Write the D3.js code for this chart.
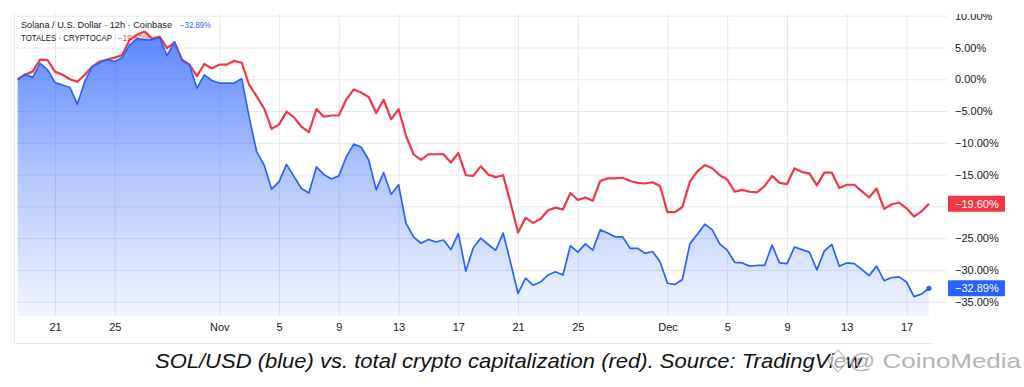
<!DOCTYPE html>
<html>
<head>
<meta charset="utf-8">
<script src="https://cdn.jsdelivr.net/npm/d3@7"></script>
<style>
  html, body { margin: 0; padding: 0; background: #fff; }
  svg { display: block; }
  text { font-family: "Liberation Sans", Arial, sans-serif; }
</style>
</head>
<body>
<svg id="chart" width="1024" height="387"></svg>
<script>
// ---------------- DATA ----------------
const seriesStart = "2025-10-18T12:00:00Z";   // first 12h candle
const stepHours = 12;

// TOTALES · CRYPTOCAP, % change (red)
const totalCapPct = [
  0.0, 0.7, 1.2, 3.1, 3.0, 1.2, 0.7, 0.0, -0.4, 0.7,
  2.0, 2.8, 3.1, 3.4, 3.8, 6.2, 7.0, 7.5, 6.4, 6.7,
  4.9, 5.8, 3.0, 2.3, 0.5, 2.4, 1.7, 2.3, 2.3, 2.9,
  2.6, -0.9, -2.7, -4.6, -7.8, -7.1, -5.1, -6.0, -7.5, -8.3,
  -4.7, -5.9, -5.7, -5.7, -3.2, -1.6, -2.1, -2.8, -5.3, -3.2,
  -6.3, -4.7, -8.9, -11.8, -12.7, -11.8, -11.8, -11.8, -13.1, -11.6,
  -15.1, -15.2, -13.7, -15.0, -15.4, -15.1, -19.5, -24.1, -21.8, -22.6,
  -22.0, -20.6, -20.2, -20.5, -17.9, -19.0, -18.6, -19.1, -16.0, -15.6,
  -15.6, -15.5, -16.0, -16.3, -16.4, -16.2, -16.8, -20.9, -20.9, -20.1,
  -16.1, -14.5, -13.5, -14.0, -15.1, -15.8, -17.7, -17.4, -17.7, -17.8,
  -16.8, -15.2, -16.3, -16.5, -14.0, -14.6, -14.8, -16.7, -14.7, -14.7,
  -17.1, -16.6, -16.6, -17.6, -18.6, -17.2, -20.4, -19.7, -19.4, -20.3,
  -21.6, -20.8, -19.6
];

// Solana / U.S. Dollar · 12h · Coinbase, % change (blue)
const solUsdPct = [
  -0.1, 0.8, 0.3, 2.5, 1.5, -0.5, -0.9, -1.3, -3.9, -0.3,
  2.0, 2.6, 3.1, 2.8, 3.4, 5.4, 6.4, 6.2, 6.2, 6.6,
  3.7, 5.9, 3.1, 2.3, -1.4, 0.7, -0.2, -0.6, -0.6, -0.6,
  0.1, -6.0, -11.4, -13.5, -17.3, -16.1, -13.4, -15.3, -17.2, -17.9,
  -13.8, -15.0, -15.7, -15.2, -12.2, -10.2, -10.7, -12.7, -17.4, -14.7,
  -18.1, -16.6, -22.7, -24.8, -25.8, -25.2, -25.6, -25.3, -26.8, -24.3,
  -30.2, -26.5, -25.0, -26.0, -26.9, -24.2, -28.9, -33.7, -31.3, -32.4,
  -31.9, -30.8, -30.3, -30.8, -26.2, -27.2, -25.9, -26.9, -23.7, -24.2,
  -24.8, -24.8, -26.6, -26.6, -27.4, -27.1, -28.7, -32.1, -32.3, -31.5,
  -25.9, -24.4, -22.8, -23.7, -25.9, -26.9, -28.8, -28.9, -29.4, -29.3,
  -29.3, -26.1, -28.9, -29.0, -26.4, -26.8, -27.2, -30.0, -27.0, -26.0,
  -29.4, -28.9, -29.0, -29.9, -30.9, -29.4, -31.7, -31.2, -31.1, -31.9,
  -34.2, -33.8, -32.89
];

const xTickDates = ["2025-10-21","2025-10-25","2025-11-01","2025-11-05","2025-11-09",
  "2025-11-13","2025-11-17","2025-11-21","2025-11-25","2025-12-01","2025-12-05",
  "2025-12-09","2025-12-13","2025-12-17"];
const xTickLabels = ["21","25","Nov","5","9","13","17","21","25","Dec","5","9","13","17"];
const yGridValues = [10, 5, 0, -5, -10, -15, -20, -25, -30, -35];
const yLabelValues = [10, 5, 0, -5, -10, -15, -25, -30, -35]; // −20.00% sits under the red badge

const legendSol = "Solana / U.S. Dollar · 12h · Coinbase";
const legendTotal = "TOTALES · CRYPTOCAP";
const captionText = "SOL/USD (blue) vs. total crypto capitalization (red). Source: TradingView";
const watermarkText = "@ CoinoMedia";

// ---------------- LAYOUT ----------------
const RED = "#f23645", BLUE = "#2962ff", TXT = "#131722", GRID = "#e6e8ee";
const plotLeft = 14, plotTop = 14, plotRight = 947, plotBottom = 316;

const svg = d3.select("#chart");
const t0 = new Date(seriesStart);
const dates = solUsdPct.map((_, i) => d3.utcHour.offset(t0, i * stepHours));

const x = d3.scaleUtc()
  .domain([new Date("2025-10-21T00:00:00Z"), new Date("2025-12-17T00:00:00Z")])
  .range([55, 906.5]);
const y = d3.scaleLinear().domain([-35, 10]).range([301.7, 15.7]);

const defs = svg.append("defs");
defs.append("clipPath").attr("id", "clipTop")
  .append("rect").attr("x", 0).attr("y", plotTop).attr("width", 1024).attr("height", 387 - plotTop);
const grad = defs.append("linearGradient").attr("id", "solFill")
  .attr("gradientUnits", "userSpaceOnUse").attr("x1", 0).attr("x2", 0)
  .attr("y1", 30).attr("y2", plotBottom);
grad.append("stop").attr("offset", 0).attr("stop-color", BLUE).attr("stop-opacity", 0.78);
grad.append("stop").attr("offset", 0.5).attr("stop-color", BLUE).attr("stop-opacity", 0.36);
grad.append("stop").attr("offset", 1).attr("stop-color", BLUE).attr("stop-opacity", 0.06);

const root = svg.append("g").attr("clip-path", "url(#clipTop)");

// gridlines
const tickDateObjs = xTickDates.map(d => new Date(d + "T00:00:00Z"));
root.append("g").attr("transform", `translate(0,${plotBottom})`)
  .call(d3.axisBottom(x).tickValues(tickDateObjs).tickSize(-(plotBottom - plotTop)).tickFormat(""))
  .call(g => g.select(".domain").remove())
  .call(g => g.selectAll("line").attr("stroke", GRID).attr("stroke-width", 1));
root.append("g").attr("transform", `translate(${plotRight},0)`)
  .call(d3.axisLeft(y).tickValues(yGridValues).tickSize(plotRight - plotLeft).tickFormat(""))
  .call(g => g.select(".domain").remove())
  .call(g => g.selectAll("line").attr("stroke", GRID).attr("stroke-width", 1));

// frame lines
root.append("line").attr("x1", plotLeft + 0.5).attr("x2", plotLeft + 0.5)
  .attr("y1", plotTop).attr("y2", 343).attr("stroke", GRID);
root.append("line").attr("x1", plotLeft).attr("x2", 932)
  .attr("y1", 343.5).attr("y2", 343.5).attr("stroke", GRID);

// legend text (under the lines)
const leg = root.append("g");
leg.append("text").attr("x", 21).attr("y", 28).attr("font-size", 8.5).attr("fill", TXT)
  .attr("textLength", 151).attr("lengthAdjust", "spacingAndGlyphs").text(legendSol);
leg.append("text").attr("x", 180).attr("y", 28).attr("font-size", 8.5).attr("fill", BLUE)
  .attr("textLength", 31).attr("lengthAdjust", "spacingAndGlyphs")
  .text(d3.format(".2f")(solUsdPct[solUsdPct.length - 1]) + "%");
leg.append("text").attr("x", 21).attr("y", 40.5).attr("font-size", 8.5).attr("fill", TXT)
  .attr("textLength", 91).attr("lengthAdjust", "spacingAndGlyphs").text(legendTotal);
leg.append("text").attr("x", 118).attr("y", 40.5).attr("font-size", 8.5).attr("fill", RED)
  .attr("textLength", 32).attr("lengthAdjust", "spacingAndGlyphs")
  .text(d3.format(".2f")(totalCapPct[totalCapPct.length - 1]) + "%");

// blue area + line
const solData = dates.map((d, i) => ({ d, v: solUsdPct[i] }));
const capData = dates.map((d, i) => ({ d, v: totalCapPct[i] }));

root.append("path").datum(solData)
  .attr("d", d3.area().x(p => x(p.d)).y0(plotBottom).y1(p => y(p.v)))
  .attr("fill", "url(#solFill)");
root.append("path").datum(capData)
  .attr("d", d3.line().x(p => x(p.d)).y(p => y(p.v)))
  .attr("fill", "none").attr("stroke", RED).attr("stroke-width", 2.2)
  .attr("stroke-linejoin", "round");
root.append("path").datum(solData)
  .attr("d", d3.line().x(p => x(p.d)).y(p => y(p.v)))
  .attr("fill", "none").attr("stroke", BLUE).attr("stroke-width", 1.7)
  .attr("stroke-linejoin", "round");
const last = solData[solData.length - 1];
root.append("circle").attr("cx", x(last.d)).attr("cy", y(last.v)).attr("r", 2.6).attr("fill", BLUE);

// right axis
root.append("g").attr("transform", "translate(955,0)")
  .call(d3.axisRight(y).tickValues(yLabelValues).tickSize(0).tickPadding(0)
    .tickFormat(v => d3.format(".2f")(v) + "%"))
  .call(g => g.select(".domain").remove())
  .call(g => g.selectAll("text").attr("font-size", 11).attr("fill", TXT)
    .attr("font-family", "Liberation Sans, Arial, sans-serif"));

// bottom axis labels
root.append("g").attr("transform", "translate(0,323)")
  .call(d3.axisBottom(x).tickValues(tickDateObjs).tickSize(0).tickPadding(0)
    .tickFormat((d, i) => xTickLabels[i]))
  .call(g => g.select(".domain").remove())
  .call(g => g.selectAll("text").attr("font-size", 11).attr("fill", TXT)
    .attr("font-family", "Liberation Sans, Arial, sans-serif"));

// price badges
function badge(val, color) {
  const cy = y(val);
  const g = root.append("g");
  g.append("rect").attr("x", 948).attr("y", cy - 8).attr("width", 57).attr("height", 16)
    .attr("rx", 1).attr("fill", color);
  g.append("text").attr("x", 955).attr("y", cy).attr("dy", "0.35em")
    .attr("font-size", 11).attr("fill", "#fff").text(d3.format(".2f")(val) + "%");
}
badge(totalCapPct[totalCapPct.length - 1], RED);
badge(solUsdPct[solUsdPct.length - 1], BLUE);

// caption
svg.append("text").attr("x", 155).attr("y", 368).attr("font-size", 21)
  .attr("font-style", "italic").attr("fill", "#111")
  .attr("textLength", 707).attr("lengthAdjust", "spacingAndGlyphs").text(captionText);

// watermark
const wm = svg.append("g").attr("opacity", 0.85);
wm.append("path")
  .attr("d", "M838,350 L848,361 L838,372 L828,361 Z")
  .attr("fill", "rgba(255,255,255,0.75)").attr("stroke", "#b8b8b8").attr("stroke-width", 1.2);
wm.append("text").attr("x", 849).attr("y", 368).attr("font-size", 20).attr("fill", "#a8a8a8")
  .attr("textLength", 172).attr("lengthAdjust", "spacingAndGlyphs").text(watermarkText);
</script>
</body>
</html>
